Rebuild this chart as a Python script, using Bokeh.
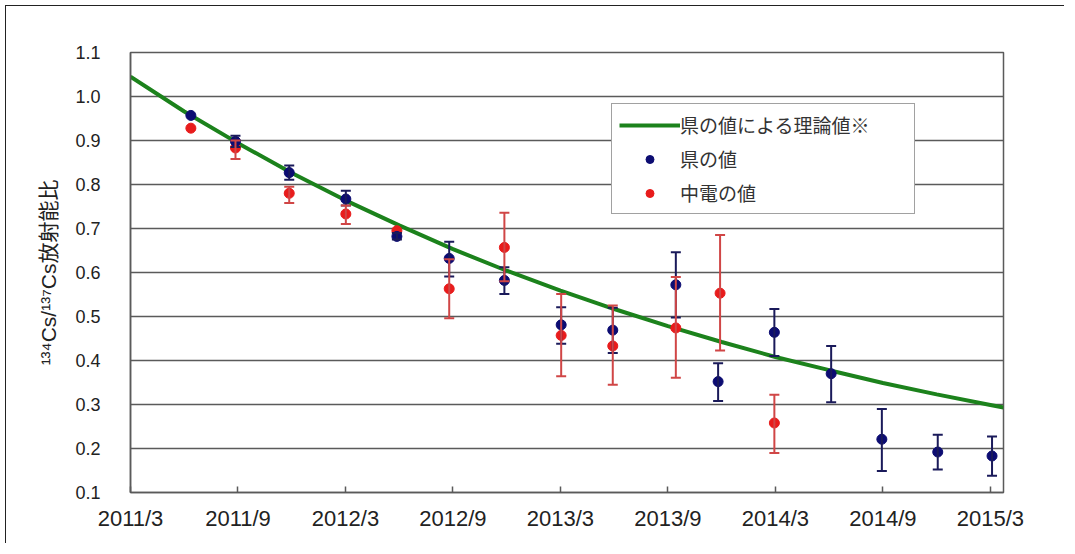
from bokeh.plotting import figure
from bokeh.models import (ColumnDataSource, Range1d, FixedTicker, Legend, LegendItem,
                          Whisker, TeeHead)
from bokeh.embed import file_html
from bokeh.resources import INLINE

# ---- data (x = months since 2011/3) ----
tick_months = [0, 6, 12, 18, 24, 30, 36, 42, 48]
tick_labels = ["2011/3", "2011/9", "2012/3", "2012/9", "2013/3",
               "2013/9", "2014/3", "2014/9", "2015/3"]

theory_x = [0, 3, 6, 9, 12, 15, 18, 21, 24, 27, 30, 33, 36, 39, 42, 45, 48, 48.73]
theory_y = [1.045, 0.966, 0.894, 0.826, 0.764, 0.707, 0.653, 0.604, 0.559,
            0.517, 0.478, 0.442, 0.408, 0.378, 0.349, 0.323, 0.299, 0.293]

pref_x = [3.37, 5.86, 8.86, 12.02, 14.87, 17.79, 20.87, 24.04, 26.92,
          30.44, 32.8, 35.94, 39.11, 41.94, 45.06, 48.09]
pref_y = [0.957, 0.898, 0.827, 0.767, 0.682, 0.632, 0.582, 0.481, 0.469,
          0.572, 0.352, 0.464, 0.370, 0.221, 0.192, 0.183]
pref_hi = [0.957, 0.911, 0.843, 0.786, 0.690, 0.670, 0.612, 0.521, 0.520,
           0.646, 0.394, 0.517, 0.433, 0.290, 0.231, 0.227]
pref_lo = [0.957, 0.885, 0.811, 0.752, 0.675, 0.591, 0.551, 0.438, 0.417,
           0.498, 0.308, 0.410, 0.305, 0.149, 0.152, 0.138]

chuden_x = [3.37, 5.86, 8.86, 12.02, 14.87, 17.79, 20.87, 24.04, 26.92,
            30.44, 32.91, 35.94]
chuden_y = [0.928, 0.883, 0.780, 0.733, 0.695, 0.563, 0.657, 0.457, 0.433,
            0.474, 0.553, 0.258]
chuden_hi = [0.928, 0.900, 0.795, 0.752, 0.695, 0.630, 0.736, 0.551, 0.525,
             0.590, 0.685, 0.322]
chuden_lo = [0.928, 0.858, 0.758, 0.710, 0.695, 0.496, 0.580, 0.364, 0.345,
             0.361, 0.423, 0.190]

y_ticks = [0.1, 0.2, 0.3, 0.4, 0.5, 0.6, 0.7, 0.8, 0.9, 1.0, 1.1]

NAVY = "#0c0c72"
RED = "#e81c1c"
GREEN = "#1c821c"
GRID = "#5a5a5a"
DIGIT_FONT = "Liberation Sans"
JP_FONT = "Noto Sans CJK JP"

p = figure(width=1059, height=538, output_backend="svg", toolbar_location=None,
           x_range=Range1d(0, 48.73), y_range=Range1d(0.1, 1.1),
           min_border_left=124, min_border_right=62, min_border_top=46,
           min_border_bottom=52)
p.styles = {"margin-left": "5px", "margin-top": "5px",
            "border-left": "1.5px solid #222", "border-top": "1.5px solid #222"}
p.background_fill_color = "white"
p.border_fill_color = "white"
p.outline_line_color = GRID
p.outline_line_width = 1.5

# axes
p.xaxis.ticker = FixedTicker(ticks=tick_months)
p.xaxis.major_label_overrides = {m: l for m, l in zip(tick_months, tick_labels)}
p.xaxis.major_tick_in = 6
p.xaxis.major_tick_out = 0
p.xaxis.major_tick_line_color = GRID
p.xaxis.major_tick_line_width = 1.5
p.xaxis.minor_tick_line_color = None
p.xaxis.axis_line_color = GRID
p.xaxis.axis_line_width = 1.5
p.xaxis.major_label_text_font = DIGIT_FONT
p.xaxis.major_label_text_font_size = "22px"
p.xaxis.major_label_text_color = "#222"
p.xaxis.major_label_standoff = 13

p.yaxis.ticker = FixedTicker(ticks=y_ticks)
p.yaxis.major_label_overrides = {t: f"{t:.1f}" for t in y_ticks}
p.yaxis.major_tick_line_color = None
p.yaxis.minor_tick_line_color = None
p.yaxis.axis_line_color = GRID
p.yaxis.axis_line_width = 1.5
p.yaxis.major_label_text_font = DIGIT_FONT
p.yaxis.major_label_text_font_size = "18px"
p.yaxis.major_label_text_color = "#222"
p.yaxis.major_label_standoff = 24
p.yaxis.axis_label = "¹³⁴Cs/¹³⁷Cs放射能比"
p.yaxis.axis_label_text_font = "Liberation Sans, Noto Sans CJK JP"
p.yaxis.axis_label_text_font_size = "21px"
p.yaxis.axis_label_text_font_style = "normal"
p.yaxis.axis_label_text_color = "#222"
p.yaxis.axis_label_standoff = 12

p.xgrid.grid_line_color = None
p.ygrid.ticker = FixedTicker(ticks=y_ticks)
p.ygrid.grid_line_color = GRID
p.ygrid.grid_line_width = 1.5

# theoretical line
line_r = p.line(theory_x, theory_y, line_color=GREEN, line_width=4)

# error bars
def add_whisker(xs, lo, hi, color):
    keep = [i for i in range(len(xs)) if hi[i] - lo[i] > 1e-9]
    src = ColumnDataSource(dict(x=[xs[i] for i in keep],
                                lower=[lo[i] for i in keep],
                                upper=[hi[i] for i in keep]))
    w = Whisker(source=src, base="x", lower="lower", upper="upper",
                line_color=color, line_width=2, level="glyph",
                upper_head=TeeHead(size=10, line_color=color, line_width=2),
                lower_head=TeeHead(size=10, line_color=color, line_width=2))
    p.add_layout(w)

add_whisker(pref_x, pref_lo, pref_hi, "#1a1a5a")
add_whisker(chuden_x, chuden_lo, chuden_hi, "#d04646")

red_r = p.scatter(chuden_x, chuden_y, size=10, fill_color=RED, line_color=RED)
blue_r = p.scatter(pref_x, pref_y, size=10, fill_color=NAVY, line_color=NAVY)

legend = Legend(items=[
    LegendItem(label="県の値による理論値※", renderers=[line_r]),
    LegendItem(label="県の値", renderers=[blue_r]),
    LegendItem(label="中電の値", renderers=[red_r]),
], location=(481, 278))
legend.label_text_font = JP_FONT
legend.label_text_font_size = "19px"
legend.label_text_color = "#333"
legend.border_line_color = "#444"
legend.border_line_width = 1.5
legend.background_fill_color = "white"
legend.background_fill_alpha = 1
legend.padding = 7
legend.margin = 0
legend.spacing = 7
legend.glyph_width = 61
legend.glyph_height = 20
legend.label_standoff = 0
legend.label_width = 227
p.add_layout(legend)

open("out.html", "w").write(file_html(p, INLINE))
